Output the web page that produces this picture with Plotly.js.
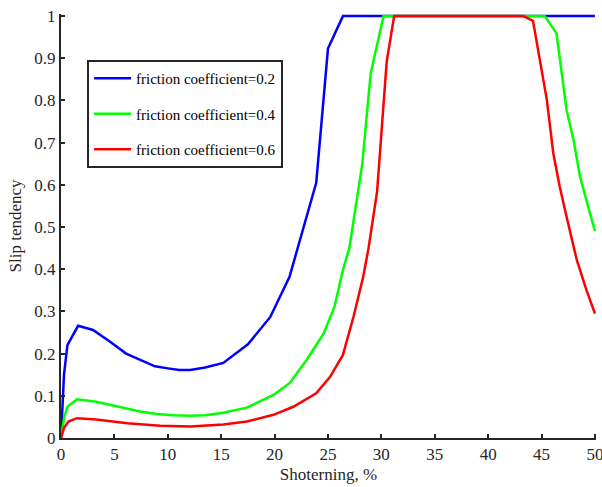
<!DOCTYPE html>
<html>
<head>
<meta charset="utf-8">
<script src="https://cdn.plot.ly/plotly-3.0.1.min.js"></script>
<style>html,body{margin:0;padding:0;background:#fff;}#chart{width:602px;height:487px;}</style>
</head>
<body>
<div id="chart"></div>
<script>
// Series names
const seriesNames = ["friction coefficient=0.2", "friction coefficient=0.4", "friction coefficient=0.6"];

// Shortening (%) and slip tendency, friction coefficient = 0.2
const xBlue = [0, 0.28, 0.6, 1.6, 3.0, 4.5, 6.1, 7.5, 8.8, 10.0, 11.1, 12.1, 13.5, 15.2, 17.5, 19.6, 21.4, 23.9, 25.0, 26.4, 30, 35, 40, 45, 50];
const yBlue = [0, 0.15, 0.22, 0.266, 0.256, 0.23, 0.20, 0.184, 0.17, 0.165, 0.161, 0.161, 0.167, 0.178, 0.222, 0.287, 0.382, 0.605, 0.923, 1, 1, 1, 1, 1, 1];

// friction coefficient = 0.4
const xGreen = [0, 0.3, 0.6, 1.5, 3.3, 4.8, 6.2, 7.5, 9.0, 10.5, 12.1, 13.5, 15.2, 17.4, 19.9, 21.4, 23.0, 24.6, 25.6, 26.4, 27.0, 28.2, 29.0, 30.2, 35, 40, 45.3, 46.4, 47.35, 48.0, 48.6, 49.2, 50];
const yGreen = [0, 0.05, 0.074, 0.092, 0.086, 0.077, 0.068, 0.062, 0.057, 0.054, 0.053, 0.054, 0.06, 0.072, 0.102, 0.13, 0.185, 0.248, 0.31, 0.398, 0.45, 0.647, 0.864, 1, 1, 1, 1, 0.959, 0.777, 0.706, 0.62, 0.564, 0.49];

// friction coefficient = 0.6
const xRed = [0, 0.3, 0.7, 1.5, 3.3, 6.2, 9.3, 12.1, 15.2, 17.4, 19.9, 21.75, 23.9, 25.2, 26.4, 27.4, 28.3, 28.8, 29.6, 30.5, 31.2, 35, 40, 43.3, 44.2, 45.5, 46.1, 46.7, 47.35, 48.3, 49.2, 50];
const yRed = [0, 0.025, 0.039, 0.047, 0.044, 0.035, 0.029, 0.027, 0.032, 0.039, 0.055, 0.074, 0.106, 0.145, 0.197, 0.288, 0.382, 0.45, 0.584, 0.892, 1, 1, 1, 1, 0.989, 0.801, 0.675, 0.596, 0.524, 0.422, 0.351, 0.295];

// Axis ticks
const xTicks = [0, 5, 10, 15, 20, 25, 30, 35, 40, 45, 50];
const yTicks = [0, 0.1, 0.2, 0.3, 0.4, 0.5, 0.6, 0.7, 0.8, 0.9, 1];

const colors = ["#0000ff", "#00ff00", "#ff0000"];
const xs = [xBlue, xGreen, xRed];
const ys = [yBlue, yGreen, yRed];

const traces = seriesNames.map((name, i) => ({
  x: xs[i], y: ys[i], name: name, type: "scatter", mode: "lines",
  line: {color: colors[i], width: 2.5},
  legendgroup: "g" + i
}));

const serif = "Liberation Serif, Times New Roman, serif";
const axisCommon = {
  showline: true, linecolor: "#262626", linewidth: 2,
  ticks: "inside", ticklen: 4, tickwidth: 2, tickcolor: "#262626",
  showgrid: false, zeroline: false, mirror: false,
  ticklabeloverflow: "allow",
  tickfont: {family: serif, size: 17, color: "#262626"}
};

const layout = {
  width: 602, height: 487,
  margin: {l: 61, r: 6, t: 14, b: 49},
  paper_bgcolor: "#fff", plot_bgcolor: "#fff",
  showlegend: true,
  xaxis: Object.assign({}, axisCommon, {
    range: [0, 50.1], tickvals: xTicks, ticktext: xTicks.map(String),
    title: {text: "Shoterning, %", font: {family: serif, size: 17, color: "#262626"}, standoff: 5}
  }),
  yaxis: Object.assign({}, axisCommon, {
    range: [0, 1.005], tickvals: yTicks, ticktext: yTicks.map(String),
    title: {text: "Slip tendency", font: {family: serif, size: 17, color: "#262626"}, standoff: 8}
  }),
  legend: {
    x: 0.0487, y: 0.8915, xanchor: "left", yanchor: "top",
    bordercolor: "#262626", borderwidth: 2, bgcolor: "#fff",
    font: {family: serif, size: 15, color: "#000"},
    traceorder: "grouped", tracegroupgap: 13, itemwidth: 37
  }
};

Plotly.newPlot("chart", traces, layout, {displayModeBar: false, staticPlot: true});
</script>
</body>
</html>
